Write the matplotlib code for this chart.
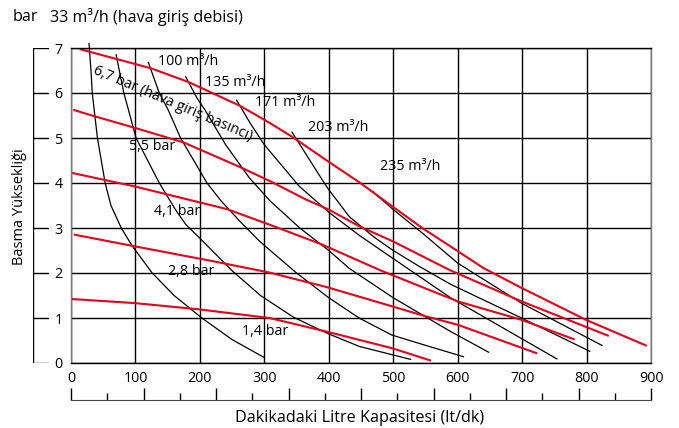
import numpy as np
from matplotlib import pyplot as plt

plt.rcParams['font.family'] = ['Open Sans', 'DejaVu Sans']

# air inlet pressure curves (red), x = lt/dk, y = bar
p67_x = [15, 124, 183, 263, 309, 345, 401, 447, 491, 545, 589, 640, 699, 799, 892]
p67_y = [6.97, 6.55, 6.24, 5.71, 5.33, 5.01, 4.46, 4.02, 3.56, 3.0, 2.59, 2.11, 1.67, 0.96, 0.39]
p55_x = [5, 30, 98, 175, 263, 309, 365, 400, 447, 500, 587, 699, 833]
p55_y = [5.62, 5.51, 5.23, 4.90, 4.35, 4.04, 3.63, 3.41, 3.04, 2.70, 2.07, 1.37, 0.61]
p41_x = [3, 100, 242, 309, 390, 480, 600, 699, 780]
p41_y = [4.22, 3.92, 3.42, 3.07, 2.63, 2.06, 1.37, 0.96, 0.53]
p28_x = [6, 100, 221, 308, 396, 498, 550, 600, 722]
p28_y = [2.85, 2.59, 2.26, 2.01, 1.69, 1.26, 1.04, 0.85, 0.22]
p14_x = [3, 100, 200, 308, 396, 498, 557]
p14_y = [1.42, 1.33, 1.19, 1.0, 0.70, 0.33, 0.06]

# air consumption curves (black)
q33_x = [28, 31, 33, 37, 41, 47, 53, 62, 78, 95, 126, 160, 203, 250, 300]
q33_y = [7.1, 6.5, 6.0, 5.5, 5.0, 4.5, 4.0, 3.5, 3.0, 2.6, 2.0, 1.5, 1.0, 0.52, 0.12]
q67_x = [70, 82, 101, 137, 162, 178, 205, 250, 294, 345, 396, 447, 527]
q67_y = [6.85, 6.0, 5.0, 4.0, 3.41, 3.08, 2.7, 2.05, 1.5, 1.02, 0.67, 0.37, 0.08]
q100_x = [120, 137, 151, 170, 211, 233, 262, 293, 350, 400, 447, 498, 560, 609]
q100_y = [6.68, 6.0, 5.62, 5.0, 4.0, 3.6, 3.15, 2.70, 2.0, 1.45, 1.0, 0.62, 0.35, 0.14]
q135_x = [178, 195, 208, 240, 277, 309, 355, 400, 432, 500, 589, 648]
q135_y = [6.36, 5.9, 5.62, 4.85, 4.11, 3.6, 3.0, 2.5, 2.1, 1.45, 0.70, 0.24]
q171_x = [257, 278, 300, 354, 400, 447, 500, 589, 754]
q171_y = [5.84, 5.33, 4.85, 3.93, 3.35, 2.84, 2.32, 1.45, 0.09]
q203_x = [343, 350, 393, 400, 432, 470, 500, 540, 589, 699, 805]
q203_y = [5.13, 4.97, 4.0, 3.85, 3.25, 2.8, 2.5, 2.15, 1.75, 1.0, 0.26]
q235_x = [468, 500, 545, 600, 699, 824]
q235_y = [3.81, 3.41, 2.89, 2.22, 1.33, 0.39]

red_curves = [(p67_x, p67_y), (p55_x, p55_y), (p41_x, p41_y), (p28_x, p28_y), (p14_x, p14_y)]
black_curves = [(q33_x, q33_y), (q67_x, q67_y), (q100_x, q100_y), (q135_x, q135_y),
                (q171_x, q171_y), (q203_x, q203_y), (q235_x, q235_y)]

flow_labels = ["100 m³/h", "135 m³/h", "171 m³/h", "203 m³/h", "235 m³/h"]
flow_pos = [(182, 6.69), (255, 6.24), (332, 5.78), (414, 5.24), (526, 4.36)]
bar_labels = ["5,5 bar", "4,1 bar", "2,8 bar", "1,4 bar"]
bar_pos = [(126, 4.82), (165, 3.36), (186, 2.04), (301, 0.69)]

xticks = list(range(0, 1000, 100))
yticks = list(range(0, 8))

W, H = 679, 428
fs = 10.3
fs_big = 11.6
fig = plt.figure(figsize=(W / 100, H / 100), dpi=100)
L, R, B, T = 71, 651, 363, 48
ax = fig.add_axes([L / W, (H - B) / H, (R - L) / W, (B - T) / H])
ax.set_xlim(0, 900)
ax.set_ylim(0, 7)
ax.set_xticks(xticks)
ax.set_yticks(yticks)
ax.grid(True, color='black', lw=1.0)
ax.set_axisbelow(True)
for s in ax.spines.values():
    s.set_color('black')
    s.set_linewidth(1.0)
ax.spines['left'].set_color('#777777')
ax.spines['right'].set_color('#777777')
ax.tick_params(length=0, labelsize=fs, pad=6)

for x, y in black_curves:
    ax.plot(x, y, color='black', lw=0.9, clip_on=False, solid_joinstyle='round')
for x, y in red_curves:
    ax.plot(x, y, color='#e3001b', lw=1.5, clip_on=False, solid_joinstyle='round')

for t, (x, y) in zip(flow_labels, flow_pos):
    ax.text(x, y, t, ha='center', va='center', fontsize=fs)
for t, (x, y) in zip(bar_labels, bar_pos):
    ax.text(x, y, t, ha='center', va='center', fontsize=fs)
ax.text(158, 5.76, "6,7 bar (hava giriş basıncı)", ha='center', va='center',
        fontsize=fs, rotation=-23, rotation_mode='anchor')

# outer left scale line with short ticks
axl = fig.add_axes([33 / W, (H - B) / H, 16 / W, (B - T) / H])
axl.set_xlim(0, 1)
axl.set_ylim(0, 7)
axl.hlines(yticks, 0, 1, color='black', lw=1.0)
axl.axis('off')
axl.axvline(0, color='black', lw=1.0)

# bottom secondary scale
bot = 400
axb = fig.add_axes([L / W, (H - bot) / H, (R - L) / W, 0.0001])
axb.set_xlim(0, 900)
for s in ['top', 'left', 'right']:
    axb.spines[s].set_visible(False)
axb.spines['bottom'].set_color('#444444')
sec = np.linspace(0, 900, 17)
axb.set_xticks(sec[::2])
axb.set_xticks(sec[1::2], minor=True)
axb.set_yticks([])
axb.tick_params(axis='x', which='major', direction='in', length=9, width=1.0, labelbottom=False)
axb.tick_params(axis='x', which='minor', direction='in', length=5, width=1.0, labelbottom=False)

fig.text(13 / W, 1 - 17 / H, "bar", fontsize=fs_big, va='center')
fig.text(50 / W, 1 - 17 / H, "33 m³/h (hava giriş debisi)", fontsize=fs_big, va='center')
fig.text(20 / W, 1 - 207 / H, "Basma Yüksekliği", fontsize=10.5, rotation=90, ha='center', va='center')
fig.text(360 / W, 1 - 418 / H, "Dakikadaki Litre Kapasitesi (lt/dk)", fontsize=fs_big, ha='center', va='center')

fig.savefig('out.png', dpi=100)
